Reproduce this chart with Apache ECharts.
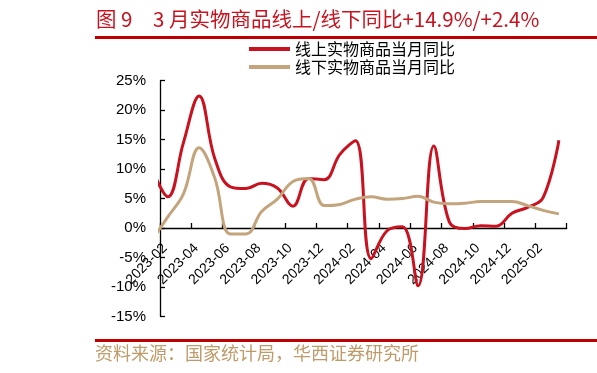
<!DOCTYPE html>
<html>
<head>
<meta charset="utf-8">
<script src="https://cdn.jsdelivr.net/npm/echarts@6/dist/echarts.min.js"></script>
<style>
html,body{margin:0;padding:0;background:#fff;}
#chart{width:597px;height:373px;}
</style>
</head>
<body>
<div id="chart"></div>
<script>
// ---- data ----
const titleText = '图 9　3 月实物商品线上/线下同比+14.9%/+2.4%';
const sourceText = '资料来源：国家统计局，华西证券研究所';
const seriesNames = ['线上实物商品当月同比', '线下实物商品当月同比'];
const months = ['2023-01','2023-02','2023-03','2023-04','2023-05','2023-06','2023-07','2023-08','2023-09','2023-10','2023-11','2023-12',
  '2024-01','2024-02','2024-03','2024-04','2024-05','2024-06','2024-07','2024-08','2024-09','2024-10','2024-11','2024-12',
  '2025-01','2025-02','2025-03'];
const online = [10.0, 5.3, 14.5, 22.4, 11.8, 7.0, 6.7, 7.6, 6.8, 3.7, 8.4, 8.2,
  12.5, 14.8, -5.2, -0.5, 0.2, -9.8, 13.9, 1.0, -0.1, 0.4, 0.3, 2.5,
  3.5, 5.2, 14.9];
const offline = [-2.0, 1.9, 5.8, 13.6, 8.5, -1.0, -1.0, 2.8, 4.9, 7.9, 8.4, 3.8,
  4.0, 4.9, 5.3, 4.9, 5.0, 5.4, 4.4, 4.1, 4.2, 4.5, 4.5, 4.5,
  3.8, 3.0, 2.4];
const xTickLabels = ['2023-02','2023-04','2023-06','2023-08','2023-10','2023-12','2024-02','2024-04','2024-06','2024-08','2024-10','2024-12','2025-02',''];
const yMin = -15, yMax = 25, yStep = 5;

// month string -> position on a month axis that starts at the beginning of 2023-02 (points at mid-month)
function monthPos(m) {
  const [y, mo] = m.split('-').map(Number);
  return (y - 2023) * 12 + (mo - 2) + 0.5;
}
const onlineData = months.map((m, i) => [monthPos(m), online[i]]);
const offlineData = months.map((m, i) => [monthPos(m), offline[i]]);

const GRID_TOP = 80.7, GRID_BOTTOM = 56.6, H = 373;
const plotH = H - GRID_TOP - GRID_BOTTOM;
// distance from the grid bottom to the zero line, so the date axis sits on 0%
const zeroOffset = plotH * (0 - yMin) / (yMax - yMin);

const RED = '#C8121F';
const TAN = '#C4A47C';
const chart = echarts.init(document.getElementById('chart'), null, {renderer: 'canvas'});
chart.setOption({
  backgroundColor: '#fff',
  animation: false,
  title: {
    text: titleText,
    left: 96, top: 9, padding: 0,
    textStyle: {fontFamily: "'Noto Sans CJK SC'", fontSize: 20.5, fontWeight: 'normal', color: RED}
  },
  legend: {
    orient: 'vertical',
    left: 249, top: 41, padding: 0,
    itemWidth: 41, itemHeight: 4, itemGap: 2,
    icon: 'rect',
    textStyle: {fontFamily: "'Noto Sans CJK SC'", fontSize: 16, color: '#000', lineHeight: 14},
    data: seriesNames
  },
  graphic: [
    {type: 'line', shape: {x1: 95, y1: 37.5, x2: 597, y2: 37.5}, style: {stroke: '#C00000', lineWidth: 3}},
    {type: 'line', shape: {x1: 95, y1: 340.5, x2: 597, y2: 340.5}, style: {stroke: '#C00000', lineWidth: 3}},
    {type: 'text', left: 95, top: 344, style: {text: sourceText, fontFamily: "'Noto Sans CJK SC'", fontSize: 18, fill: '#BF9B6A'}}
  ],
  grid: {left: 160, right: 30.3, top: GRID_TOP, bottom: GRID_BOTTOM, containLabel: false, outerBoundsMode: 'none'},
  xAxis: {
    type: 'value', min: 0, max: 26, interval: 2,
    offset: -zeroOffset,
    axisLine: {show: true, onZero: false, lineStyle: {color: '#000', width: 1.3}},
    axisTick: {show: true, inside: true, length: 5, lineStyle: {color: '#000', width: 1.3}},
    splitLine: {show: false},
    axisLabel: {
      rotate: 45, align: 'right', verticalAlign: 'top', margin: 13,
      fontFamily: "'Liberation Sans'", fontSize: 14, color: '#000',
      showMinLabel: true, showMaxLabel: true, hideOverlap: false,
      formatter: v => xTickLabels[Math.round(v / 2)] || ''
    }
  },
  yAxis: {
    type: 'value', min: yMin, max: yMax, interval: yStep,
    axisLine: {show: true, lineStyle: {color: '#000', width: 1.3}},
    axisTick: {show: true, inside: true, length: 5, lineStyle: {color: '#000', width: 1.3}},
    splitLine: {show: false},
    axisLabel: {margin: 14, fontFamily: "'Liberation Sans'", fontSize: 15, color: '#000', formatter: '{value}%'}
  },
  series: [
    {name: seriesNames[0], type: 'line', data: onlineData, smooth: 0.4, smoothConstraint: false, showSymbol: false, symbol: 'none',
     clip: true, lineStyle: {color: RED, width: 3}, itemStyle: {color: RED}},
    {name: seriesNames[1], type: 'line', data: offlineData, smooth: 0.4, smoothConstraint: false, showSymbol: false, symbol: 'none',
     clip: true, lineStyle: {color: TAN, width: 3}, itemStyle: {color: TAN}}
  ]
});
</script>
</body>
</html>
